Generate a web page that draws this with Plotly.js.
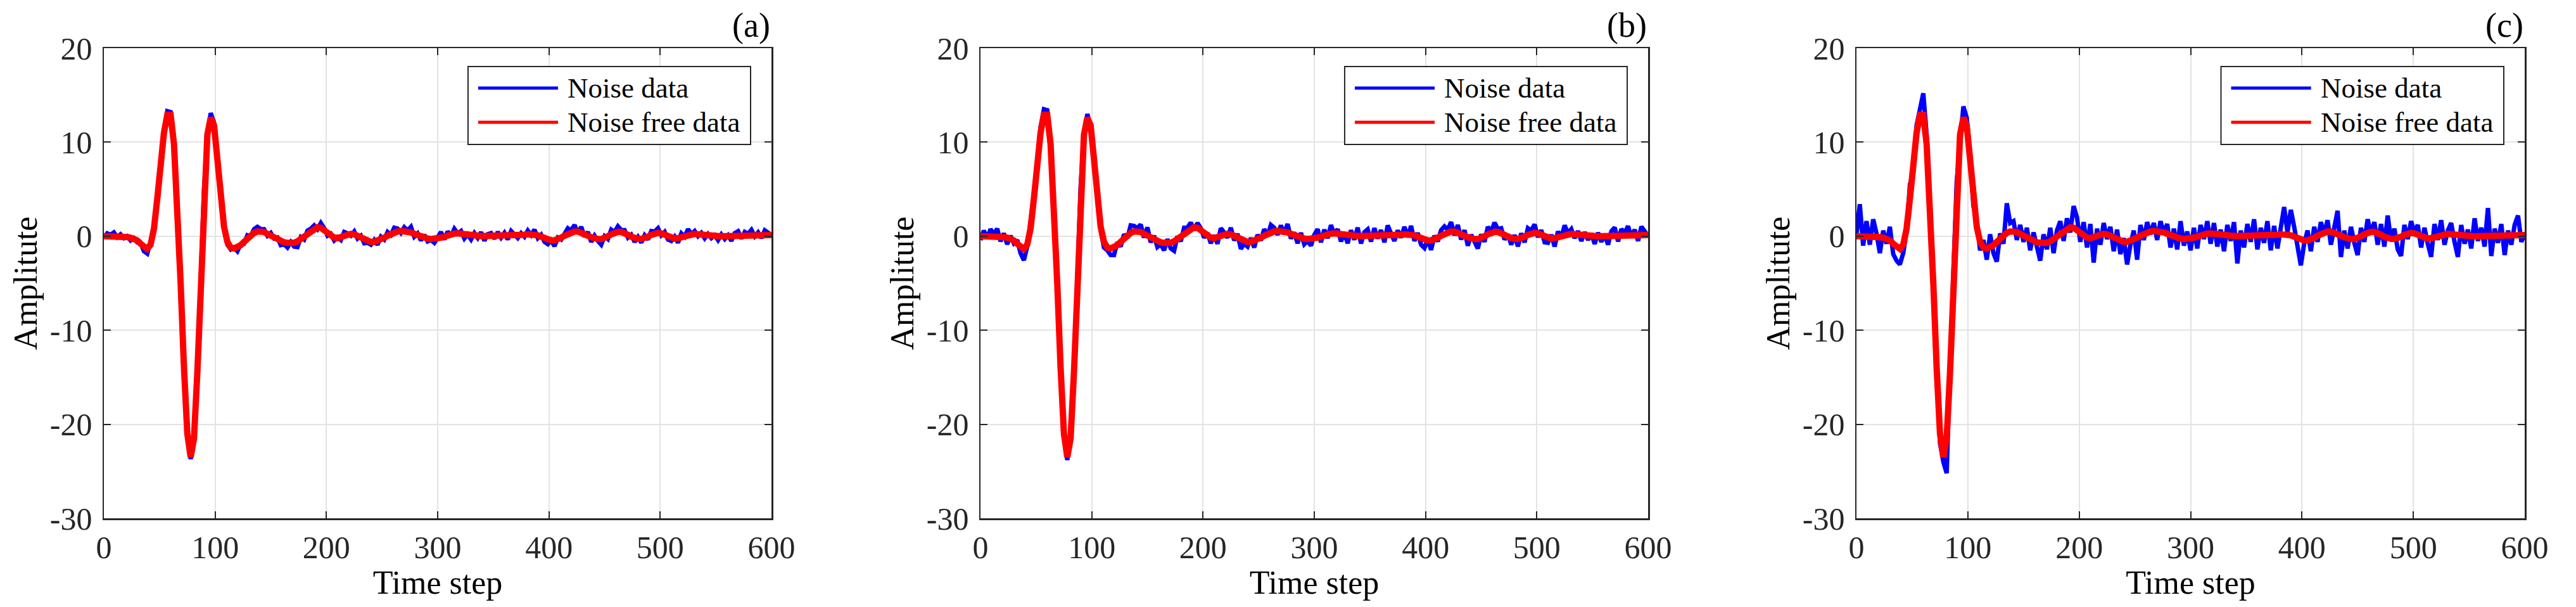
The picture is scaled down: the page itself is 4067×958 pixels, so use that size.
<!DOCTYPE html>
<html>
<head>
<meta charset="utf-8">
<script src="https://cdn.plot.ly/plotly-3.0.1.min.js"></script>
<style>
  body { margin: 0; background: #ffffff; }
  #chart { width: 4067px; height: 958px; }
</style>
</head>
<body>
<div id="chart"></div>
<script>
// time axis: one sample every 3 steps, 0..600
const timeSteps = Array.from({ length: 201 }, (_, i) => i * 3);

const panelLabels = ["(a)", "(b)", "(c)"];
const seriesNames = ["Noise data", "Noise free data"];
const xTicks = [0, 100, 200, 300, 400, 500, 600];
const yTicks = [-30, -20, -10, 0, 10, 20];
const yTickText = ["-30", "-20", "-10", "0", "10", "20"];

// noise free signal (same in all three panels)
const cleanData = [
  0.0, 0.0, 0.05, 0.05, 0.0, 0.0, -0.05, -0.1, -0.15, -0.25,
  -0.45, -0.8, -1.2, -1.35, -0.9, 0.8, 4.0, 7.8, 11.0, 12.9,
  12.9, 9.8, 3.5, -5.0, -14.0, -21.0, -23.5, -21.5, -14.5, -4.5,
  4.8, 10.8, 12.6, 11.8, 8.2, 4.0, 1.0, -0.6, -1.2, -1.3,
  -1.2, -0.95, -0.6, -0.2, 0.1, 0.35, 0.5, 0.55, 0.45, 0.25,
  0.05, -0.15, -0.35, -0.55, -0.65, -0.7, -0.72, -0.7, -0.55, -0.3,
  -0.05, 0.3, 0.6, 0.85, 0.95, 0.9, 0.65, 0.35, 0.05, -0.15,
  -0.2, -0.1, 0.05, 0.2, 0.25, 0.2, 0.05, -0.15, -0.35, -0.5,
  -0.6, -0.6, -0.5, -0.35, -0.15, 0.05, 0.25, 0.4, 0.5, 0.55,
  0.55, 0.5, 0.4, 0.25, 0.1, -0.05, -0.15, -0.25, -0.3, -0.3,
  -0.25, -0.15, -0.05, 0.1, 0.2, 0.28, 0.3, 0.25, 0.15, 0.08,
  0.05, 0.03, 0.02, 0.02, 0.02, 0.02, 0.03, 0.03, 0.05, 0.05,
  0.05, 0.05, 0.05, 0.08, 0.1, 0.12, 0.15, 0.2, 0.22, 0.2,
  0.1, -0.05, -0.2, -0.35, -0.45, -0.45, -0.35, -0.15, 0.05, 0.25,
  0.4, 0.5, 0.5, 0.4, 0.25, 0.05, -0.1, -0.25, -0.3, -0.3,
  -0.2, 0.0, 0.2, 0.35, 0.45, 0.45, 0.35, 0.15, -0.05, -0.2,
  -0.28, -0.28, -0.2, -0.05, 0.15, 0.3, 0.35, 0.3, 0.15, -0.05,
  -0.2, -0.25, -0.2, -0.1, 0.05, 0.15, 0.22, 0.25, 0.2, 0.15,
  0.08, 0.03, 0.0, 0.0, -0.02, -0.02, 0.0, 0.0, 0.0, 0.02,
  0.03, 0.05, 0.05, 0.05, 0.07, 0.08, 0.1, 0.1, 0.12, 0.12,
  0.12
];

// noisy signal, panel (a)
const noisyA = [
  -0.2, 0.3, 0.15, 0.4, -0.1, 0.2, -0.2, 0.0, -0.45, -0.2,
  -0.65, -0.7, -1.6, -1.85, -0.6, 1.2, 4.2, 7.6, 11.3, 13.3,
  13.2, 9.6, 3.8, -5.3, -13.8, -21.2, -23.7, -21.2, -14.7, -4.2,
  5.0, 10.6, 13.1, 12.1, 8.6, 4.5, 0.8, -0.9, -1.4, -1.2,
  -1.6, -0.85, -0.8, 0.1, 0.0, 0.75, 1.0, 0.75, 0.75, 0.05,
  0.35, -0.25, -0.15, -0.95, -0.85, -1.2, -0.62, -1.1, -1.15, -0.1,
  -0.35, 0.6, 0.8, 1.15, 0.75, 1.4, 0.85, 0.05, 0.25, -0.45,
  -0.1, -0.4, 0.45, 0.3, 0.05, 0.5, -0.25, 0.05, -0.75, -0.7,
  -0.9, -0.4, -0.9, -0.05, -0.35, 0.45, 0.15, 0.9, 0.8, 0.35,
  0.95, 0.6, 1.0, -0.05, 0.3, -0.45, 0.15, -0.55, -0.4, -0.7,
  -0.05, 0.45, -0.35, 0.5, 0.0, 0.78, 0.3, 0.55, -0.25, 0.18,
  -0.35, 0.33, -0.18, 0.42, -0.48, 0.22, 0.33, -0.27, 0.45, -0.15,
  0.35, -0.35, 0.55, 0.18, -0.2, 0.32, -0.05, 0.6, 0.12, 0.7,
  -0.2, 0.15, -0.6, -0.85, -0.45, -1.05, -0.15, -0.35, 0.35, 0.85,
  0.6, 1.2, 0.3, 1.0, -0.05, 0.45, -0.6, 0.05, -0.5, -0.9,
  0.0, -0.3, 0.7, 0.45, 1.05, 0.65, 0.65, -0.15, 0.15, -0.6,
  -0.08, -0.68, 0.1, -0.35, 0.55, 0.5, 0.85, 0.1, 0.45, -0.35,
  -0.5, -0.05, -0.7, 0.3, -0.05, 0.75, 0.22, 0.55, 0.0, 0.35,
  -0.22, 0.23, -0.2, 0.1, -0.42, 0.18, -0.3, 0.1, -0.5, 0.32,
  0.53, -0.25, 0.45, 0.25, 0.67, -0.02, 0.4, -0.2, 0.62, 0.32,
  0.12
];

// noisy signal, panel (b)
const noisyB = [
  -0.4, 0.6, -0.25, 0.75, 0.2, 0.8, -0.55, 0.3, -0.85, 0.05,
  -0.75, -0.4, -1.8, -2.55, -1.1, 1.3, 4.3, 7.4, 11.6, 13.5,
  13.4, 9.4, 3.8, -5.5, -13.6, -21.3, -23.8, -21.1, -15.0, -4.0,
  5.3, 10.5, 13.0, 11.6, 8.8, 4.4, 0.6, -1.2, -1.5, -2.0,
  -2.0, -0.65, -1.1, 0.2, -0.2, 1.15, 1.1, 0.85, 1.25, -0.15,
  0.95, -0.65, 0.05, -1.15, -0.85, -1.5, -0.32, -1.3, -1.55, 0.0,
  -0.55, 0.9, 0.9, 1.45, 0.65, 1.4, 0.85, -0.15, 0.35, -0.75,
  0.1, -0.8, 0.85, 0.4, -0.15, 0.9, -0.45, 0.25, -1.35, -0.8,
  -1.1, -0.2, -1.2, 0.15, -0.45, 0.75, 0.05, 1.2, 0.9, 0.15,
  1.15, 0.3, 1.3, -0.25, 0.4, -0.75, 0.35, -0.85, -0.5, -1.0,
  0.15, 0.75, -0.65, 0.7, -0.2, 1.18, 0.2, 0.75, -0.55, 0.38,
  -0.75, 0.63, -0.38, 0.92, -0.78, 0.42, 0.73, -0.57, 0.85, -0.25,
  0.65, -0.65, 1.15, 0.28, -0.5, 0.62, -0.15, 1.0, -0.1, 1.1,
  -0.5, 0.35, -0.9, -1.25, -0.35, -1.45, 0.05, -0.55, 0.65, 1.05,
  0.7, 1.5, 0.1, 1.2, -0.35, 0.65, -1.0, 0.15, -0.6, -1.3,
  0.2, -0.6, 1.0, 0.45, 1.45, 0.75, 0.85, -0.35, 0.2, -0.9,
  0.12, -1.08, 0.3, -0.65, 0.85, 0.6, 1.25, -0.1, 0.65, -0.65,
  -0.7, 0.15, -1.1, 0.5, -0.15, 1.15, 0.32, 0.75, -0.2, 0.55,
  -0.52, 0.43, -0.4, 0.3, -0.82, 0.38, -0.6, 0.2, -0.9, 0.52,
  0.93, -0.55, 0.75, 0.35, 1.07, -0.12, 0.7, -0.5, 1.02, 0.42,
  0.02
];

// noisy signal, panel (c)
const noisyC = [
  0.2, 3.4, -1.0, 1.6, -0.9, 1.8, 0.3, -1.8, 0.6, -0.8,
  1.0, -1.9, -2.6, -3.0, -1.8, 0.5, 5.5, 6.8, 11.8, 13.4,
  15.2, 10.8, 2.8, -6.2, -13.2, -22.0, -24.0, -25.2, -13.8, -3.0,
  5.8, 9.8, 13.8, 12.6, 8.8, 3.2, 1.6, -1.5, -0.4, -2.5,
  0.2, -1.8, -2.7, 0.3, -0.8, 3.5, 1.4, 1.6, -0.4, 1.2,
  -0.6, 0.9, -1.5, 0.4, -1.2, -2.6, 0.2, -1.4, 0.9, -1.8,
  0.6, 1.6, -0.5, 1.9, 0.4, 3.2, 2.0, -0.6, 1.5, -1.2,
  1.3, -2.8, 0.8, -0.9, 1.4, -0.3, 1.0, -1.6, 0.7, -1.9,
  -0.2, -3.0, -0.9, 0.6, -2.5, 1.2, -0.4, 1.5, 0.2, 1.4,
  -0.4, 1.6, 0.3, 1.3, -1.2, 0.8, -1.4, 1.6, -1.0, 0.5,
  -1.5, 0.9, -1.3, 1.2, -0.3, 1.6, -0.8, 1.4, -1.1, 0.7,
  -1.6, 1.2, -0.5, 1.5, -2.9, 0.6, -1.2, 1.3, -0.6, 1.8,
  -1.4, 0.9, -0.7, 1.6, -1.5, 1.1, -1.3, 0.8, 3.1, 0.4,
  2.8, 1.0, -1.2, -3.1, -0.8, 0.6, -1.6, 1.0, -0.6, 1.5,
  0.2, 1.7, -0.9, 1.1, 2.7, -2.2, 0.6, -1.3, 1.0, -0.7,
  -2.0, 0.9, -0.6, 1.8, 0.2, 1.5, -0.9, 1.3, -1.1, 2.2,
  -0.5, 0.8, -1.4, -2.1, 1.2, -0.3, 1.6, 0.4, 1.2, -1.2,
  0.9, -0.8, -2.2, 1.3, -0.4, 1.7, -0.9, 0.6, 1.4, -0.6,
  -2.2, 1.2, -0.8, 0.7, -1.3, 1.9, -0.5, 0.9, -1.1, 3.0,
  -2.1, 0.8, -0.7, 1.3, -2.0, 0.6, -0.9, 1.2, 2.2, -0.6,
  0.3
];

const noisySets = [noisyA, noisyB, noisyC];

// axes boxes, in page fractions
const W = 4067, H = 958;
const xDomains = [
  [164 / W, 1218 / W],
  [1548 / W, 2602 / W],
  [2931 / W, 3986 / W]
];
const yDomain = [1 - 818 / H, 1 - 76 / H];

const font = "Liberation Serif, Times New Roman, serif";
const axisColor = "#262626";

const traces = [];
const layout = {
  width: W,
  height: H,
  margin: { l: 0, r: 0, t: 0, b: 0 },
  paper_bgcolor: "#ffffff",
  plot_bgcolor: "#ffffff",
  showlegend: false,
  font: { family: font, color: axisColor },
  shapes: [],
  annotations: []
};

noisySets.forEach((noisy, p) => {
  const sfx = p === 0 ? "" : String(p + 1);
  const xa = "x" + sfx, ya = "y" + sfx;

  traces.push({
    x: timeSteps, y: noisy, xaxis: xa, yaxis: ya,
    type: "scatter", mode: "lines", name: seriesNames[0],
    line: { color: "#0000ff", width: 7 }
  });
  traces.push({
    x: timeSteps, y: cleanData, xaxis: xa, yaxis: ya,
    type: "scatter", mode: "lines", name: seriesNames[1],
    line: { color: "#ff0000", width: 10 }
  });

  layout["xaxis" + sfx] = {
    domain: xDomains[p],
    anchor: ya,
    range: [0, 600],
    tickvals: xTicks,
    ticks: "inside", ticklen: 11, tickwidth: 2, tickcolor: axisColor,
    showline: true, linecolor: axisColor, linewidth: 2.5, mirror: "ticks",
    showgrid: true, gridcolor: "#e3e3e3", gridwidth: 2,
    zeroline: false,
    tickfont: { family: font, size: 50, color: axisColor },
    title: { text: "Time step", font: { family: font, size: 52, color: "#000" }, standoff: 6 }
  };
  layout["yaxis" + sfx] = {
    domain: yDomain,
    anchor: xa,
    range: [-30, 20],
    tickvals: yTicks,
    ticktext: yTickText,
    ticks: "inside", ticklen: 11, tickwidth: 2, tickcolor: axisColor,
    showline: true, linecolor: axisColor, linewidth: 2.5, mirror: "ticks",
    showgrid: true, gridcolor: "#e3e3e3", gridwidth: 2,
    zeroline: false,
    tickfont: { family: font, size: 50, color: axisColor },
    ticklabelstandoff: 6,
    title: { text: "Amplitute", font: { family: font, size: 52, color: "#000" }, standoff: 4 }
  };

  // legend box drawn inside each panel
  const xd = xa + " domain", yd = ya + " domain";
  layout.shapes.push({
    type: "rect", xref: xd, yref: yd,
    x0: 0.5455, x1: 0.9687, y0: 0.795, y1: 0.961,
    line: { color: axisColor, width: 2 }, fillcolor: "#ffffff", layer: "above"
  });
  layout.shapes.push({
    type: "line", xref: xd, yref: yd,
    x0: 0.5607, x1: 0.6803, y0: 0.9151, y1: 0.9151,
    line: { color: "#0000ff", width: 5 }, layer: "above"
  });
  layout.shapes.push({
    type: "line", xref: xd, yref: yd,
    x0: 0.5607, x1: 0.6803, y0: 0.8423, y1: 0.8423,
    line: { color: "#ff0000", width: 5 }, layer: "above"
  });
  [0.9151, 0.8423].forEach((yy, k) => {
    layout.annotations.push({
      xref: xd, yref: yd, x: 0.6926, y: yy,
      xanchor: "left", yanchor: "middle", showarrow: false,
      text: seriesNames[k],
      font: { family: font, size: 45, color: "#000" }
    });
  });

  layout.annotations.push({
    xref: xd, yref: yd, x: 1.0, y: 1.0,
    xanchor: "right", yanchor: "bottom", showarrow: false, yshift: 4,
    text: panelLabels[p],
    font: { family: font, size: 54, color: "#000" }
  });
});

Plotly.newPlot("chart", traces, layout, { displayModeBar: false, staticPlot: true });
</script>
</body>
</html>
